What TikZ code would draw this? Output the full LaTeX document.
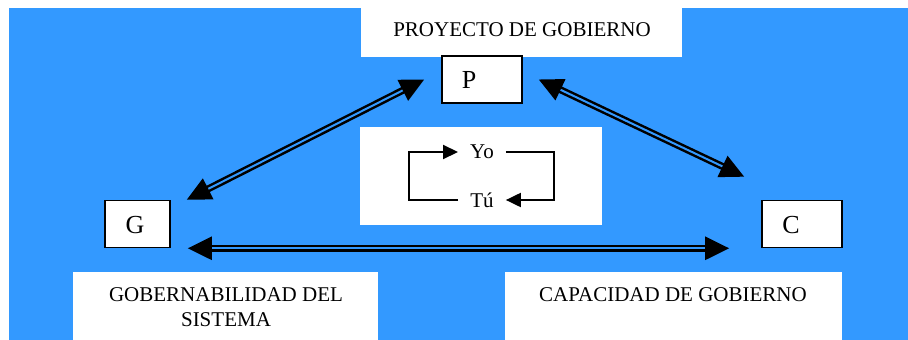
\documentclass[tikz,border=0pt]{standalone}
\usepackage{fontspec}
\setmainfont{Liberation Serif}
\usetikzlibrary{arrows.meta}
\definecolor{fondo}{RGB}{51,153,255}
\begin{document}
\begin{tikzpicture}[x=1pt,y=-1pt,
	caja/.style={draw=black,line width=1.6pt,fill=white,minimum height=47pt,inner sep=0pt},
	letra/.style={font=\fontsize{26}{30}\selectfont},
	texto/.style={font=\fontsize{21}{25}\selectfont,align=center},
	yotu/.style={font=\fontsize{21}{25}\selectfont,inner xsep=12pt,inner ysep=0pt},
	doble/.style={double=fondo,double distance=2pt,line width=2.5pt,
		{Triangle[length=24pt,width=23pt]}-{Triangle[length=24pt,width=23pt]}},
	bucle/.style={line width=2pt,-{Triangle[length=15pt,width=14pt]}}]
	\useasboundingbox (0,0) rectangle (908,340);
	% fondo y recuadros blancos
	\fill[fondo] (9,8) rectangle (908,340);
	\fill[white] (361,0) rectangle (682,57);
	\fill[white] (360,127) rectangle (602,225);
	\fill[white] (73,272) rectangle (378,340);
	\fill[white] (505,272) rectangle (842,340);
	% cajas
	\node[caja,minimum width=80pt] (p) at (482,79.5) {};
	\node[caja,minimum width=65pt] (g) at (137.5,224) {};
	\node[caja,minimum width=80pt] (c) at (802,224) {};
	\node[letra] (pl) at (469,80) {P};
	\node[letra] (gl) at (135,225) {G};
	\node[letra] (cl) at (791,225) {C};
	% textos
	\node[texto] (proyecto) at (522,30) {PROYECTO DE GOBIERNO};
	\node[texto] (gobernab) at (226,307.5) {GOBERNABILIDAD DEL\\SISTEMA};
	\node[texto] (capacidad) at (673,295) {CAPACIDAD DE GOBIERNO};
	% flechas dobles
	\draw[doble] ([xshift=16pt]g.north east) -- ([xshift=-17pt]p.west);
	\draw[doble] ([xshift=16pt]p.east) -- ([xshift=-17pt,yshift=23pt]c.north west);
	\draw[doble] ([xshift=17pt]g.south east) -- ([xshift=-32pt]c.south west);
	% yo - tu
	\node[yotu] (yo) at (482,152) {Yo};
	\node[yotu] (tu) at (482,200) {Tú};
	\draw[bucle] (tu.west) -- ++(-49,0) |- (yo.west);
	\draw[bucle] (yo.east) -- ++(48,0) |- (tu.east);
\end{tikzpicture}
\end{document}
